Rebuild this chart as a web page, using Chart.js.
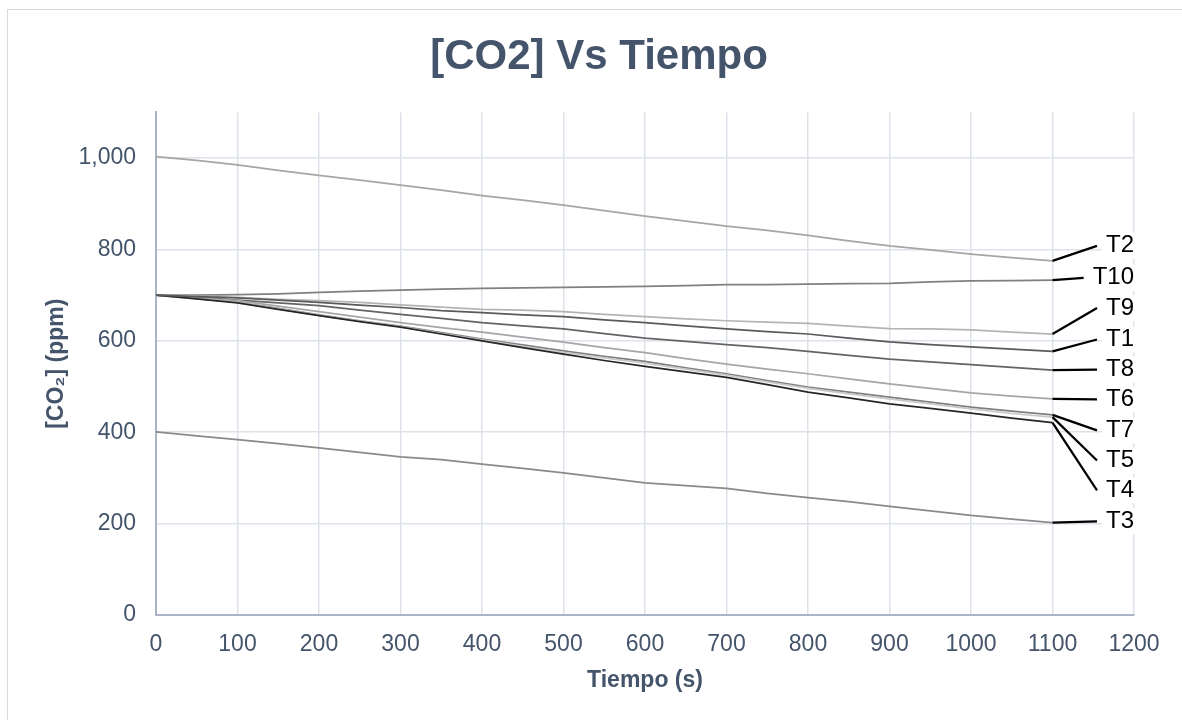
<!DOCTYPE html>
<html>
<head>
<meta charset="utf-8">
<script src="https://cdn.jsdelivr.net/npm/chart.js@4"></script>
<style>
  body { margin: 0; background: #fff; }
  #marco { position: absolute; left: 7px; top: 9px; width: 1180px; height: 720px; border: 1px solid #d9d9d9; }
  #grafico { position: absolute; left: 0; top: 0; }
</style>
</head>
<body>
<div id="marco"></div>
<canvas id="grafico" width="1182" height="720"></canvas>
<script>

// DATOS (tiempo en s, CO2 en ppm)

const tiempo = [0, 50, 100, 150, 200, 250, 300, 350, 400, 450, 500, 550, 600, 650, 700, 750, 800, 850, 900, 950, 1000, 1050, 1100];

const t1  = [700, 697, 694, 689, 684, 678, 673, 666, 662, 657, 653, 646, 640, 633, 626, 620, 615, 606, 598, 592, 587, 582, 577];
const t2  = [1003, 995, 985, 973, 962, 952, 941, 930, 918, 908, 897, 885, 873, 862, 851, 842, 831, 819, 808, 799, 790, 782, 775];
const t3  = [401, 392, 384, 375, 366, 356, 346, 340, 330, 321, 311, 300, 289, 283, 277, 266, 257, 248, 238, 228, 218, 210, 202];
const t4  = [700, 692, 683, 669, 655, 642, 630, 615, 600, 585, 571, 557, 544, 532, 520, 504, 488, 475, 462, 452, 442, 431, 421];
const t5  = [700, 692, 684, 670, 656, 643, 631, 616, 602, 588, 575, 563, 551, 538, 525, 510, 496, 484, 473, 462, 451, 441, 433];
const t6  = [700, 694, 688, 676, 664, 652, 640, 629, 619, 608, 597, 585, 574, 561, 549, 538, 528, 517, 506, 496, 486, 479, 473];
const t7  = [700, 693, 685, 671, 657, 644, 632, 618, 604, 591, 578, 566, 555, 541, 528, 513, 499, 488, 477, 466, 455, 446, 438];
const t8  = [700, 695, 689, 683, 677, 667, 658, 649, 640, 633, 626, 616, 606, 599, 592, 585, 577, 568, 560, 554, 548, 542, 536];
const t9  = [700, 698, 695, 691, 688, 684, 679, 674, 669, 667, 664, 658, 653, 648, 644, 641, 638, 632, 627, 626, 624, 619, 615];
const t10 = [700, 700, 701, 703, 706, 709, 711, 713, 715, 716, 717, 718, 719, 721, 723, 723, 724, 725, 726, 729, 731, 732, 733];

const nombres = ['T1', 'T2', 'T3', 'T4', 'T5', 'T6', 'T7', 'T8', 'T9', 'T10'];

// ESTILO

const colores = ['#5a5a5a', '#a6a6a6', '#8a8a8a', '#262626', '#c9c9c9', '#a6a6a6', '#7f7f7f', '#646464', '#b4b4b4', '#808080'];

// altura (en ppm) donde va cada etiqueta, mismo orden que nombres
const posEtiqueta = [603, 808, 205, 273, 338, 472, 404, 537, 672, 738];

const fuente = '"Liberation Sans", Arial, sans-serif';
const gris = '#44546A';

const valores = [t1, t2, t3, t4, t5, t6, t7, t8, t9, t10];

// ETIQUETAS CON LINEA GUIA

const etiquetasPlugin = {

    id: 'etiquetas',

    afterDatasetsDraw(chart) {

        const { ctx, scales: { x, y } } = chart;
        const xFin = x.getPixelForValue(tiempo[tiempo.length - 1]);
        const xTexto = x.getPixelForValue(1200);

        ctx.save();
        ctx.font = '24px ' + fuente;
        ctx.textBaseline = 'middle';
        ctx.textAlign = 'right';

        const items = nombres.map((n, i) => {
            const w = ctx.measureText(n).width;
            return {
                n, w,
                y0: y.getPixelForValue(valores[i][valores[i].length - 1]),
                yt: y.getPixelForValue(posEtiqueta[i])
            };
        });

        // cajas blancas
        ctx.fillStyle = '#fff';
        items.forEach(it => ctx.fillRect(xTexto - it.w - 4, it.yt - 13, it.w + 8, 26));

        // lineas guia
        ctx.strokeStyle = '#000';
        ctx.lineWidth = 2.25;
        items.forEach(it => {
            ctx.beginPath();
            ctx.moveTo(xFin, it.y0);
            ctx.lineTo(xTexto - it.w - 9, it.yt);
            ctx.stroke();
        });

        // texto
        ctx.fillStyle = '#000';
        items.forEach(it => ctx.fillText(it.n, xTexto, it.yt));

        ctx.restore();
    }
};

// GRAFICO

const chart = new Chart(document.getElementById('grafico'), {

    type: 'line',

    data: {
        datasets: nombres.map((n, i) => ({
            label: n,
            data: tiempo.map((t, k) => ({ x: t, y: valores[i][k] })),
            borderColor: colores[i],
            borderWidth: 1.75,
            pointRadius: 0,
            tension: 0,
            fill: false
        }))
    },

    options: {
        responsive: false,
        animation: false,
        devicePixelRatio: 1,
        // izquierda 64 / derecha 48 para que el titulo quede centrado como en el original
        layout: { padding: { left: 64, right: 48, top: 0, bottom: 0 } },
        plugins: {
            legend: { display: false },
            tooltip: { enabled: false },
            title: {
                display: true,
                text: '[CO2] Vs Tiempo',
                color: gris,
                font: { family: fuente, size: 42, weight: 'bold' },
                padding: { top: 32, bottom: 30 }
            }
        },
        scales: {
            x: {
                type: 'linear',
                min: 0,
                max: 1200,
                afterFit: s => { s.height = 105; },
                ticks: {
                    stepSize: 100,
                    padding: 16,
                    color: gris,
                    font: { family: fuente, size: 23 },
                    callback: v => String(v)
                },
                grid: { color: '#dde2ea', lineWidth: 1.5, drawTicks: false },
                border: { color: '#aab4c6', width: 2 },
                title: {
                    display: true,
                    text: 'Tiempo (s)',
                    color: gris,
                    font: { family: fuente, size: 23, weight: 'bold' },
                    padding: { top: 0, bottom: 26 }
                }
            },
            y: {
                min: 0,
                max: 1100,
                afterFit: s => { s.width = 92; },
                afterBuildTicks: s => { s.ticks = s.ticks.filter(t => t.value <= 1000); },
                ticks: {
                    stepSize: 200,
                    padding: 20,
                    color: gris,
                    font: { family: fuente, size: 23 }
                },
                grid: { color: '#dde2ea', lineWidth: 1.5, drawTicks: false },
                border: { color: '#aab4c6', width: 2 },
                title: {
                    display: true,
                    text: '[CO₂] (ppm)',
                    color: gris,
                    font: { family: fuente, size: 23, weight: 'bold' },
                    padding: { top: -21, bottom: 0 }
                }
            }
        }
    },

    plugins: [etiquetasPlugin]

});

</script>
</body>
</html>
